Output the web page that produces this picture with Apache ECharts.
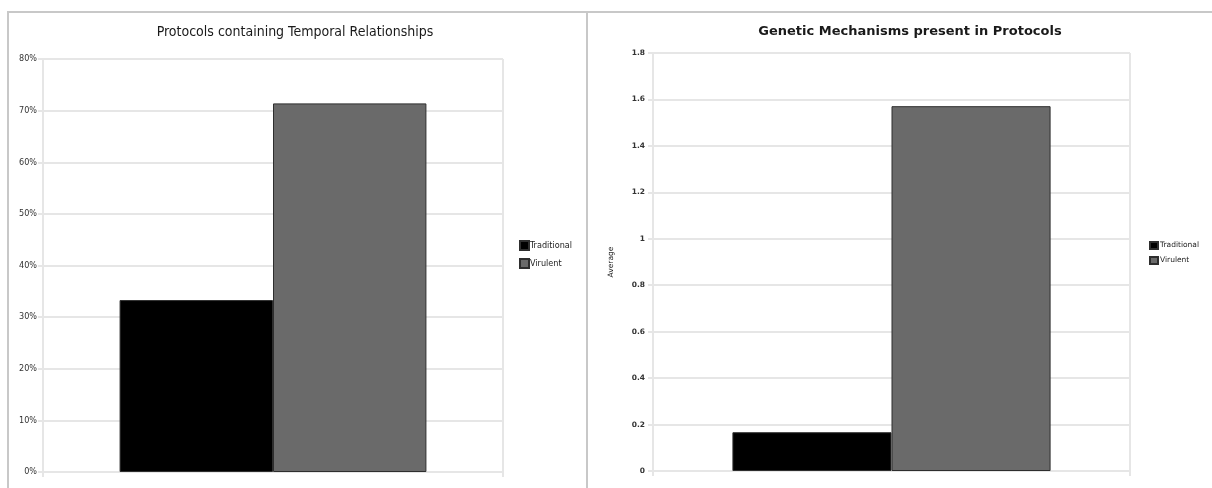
<!DOCTYPE html>
<html>
<head>
<meta charset="utf-8">
<script src="https://cdn.jsdelivr.net/npm/echarts@6/dist/echarts.min.js"></script>
<style>
  html, body { margin: 0; padding: 0; background: #ffffff; }
  #chart { width: 1212px; height: 488px; }
</style>
</head>
<body>
<div id="chart"></div>
<script>
// Share of protocols containing temporal relationships (percent)
const seriesNames = ['Traditional', 'Virulent'];
const temporalTraditional = [33.3];
const temporalVirulent = [71.4];
// Average number of genetic mechanisms present in protocols
const geneticTraditional = [0.167];
const geneticVirulent = [1.571];

const category = [''];
const gridColor = '#e6e6e6';
const narrowFont = '"Liberation Sans Narrow", "DejaVu Sans Condensed", "Liberation Sans", sans-serif';
const wideFont = '"DejaVu Sans", "Liberation Sans", sans-serif';

const chart = echarts.init(document.getElementById('chart'), null, { renderer: 'canvas' });

function catAxis(gridIndex) {
  return {
    type: 'category',
    gridIndex: gridIndex,
    data: category,
    axisLabel: { show: false },
    axisLine: { show: true, lineStyle: { color: gridColor, width: 2 } },
    axisTick: { show: true, length: 5, lineStyle: { color: gridColor, width: 2 } },
    splitLine: { show: true, lineStyle: { color: gridColor, width: 2 } }
  };
}

function barStyle(color) {
  return { color: color, borderColor: '#2e2e2e', borderWidth: 1 };
}

chart.setOption({
  animation: false,
  backgroundColor: '#ffffff',
  graphic: [
    { type: 'rect', shape: { x: 8, y: 12, width: 579, height: 490 },
      style: { fill: 'none', stroke: '#c8c8c8', lineWidth: 2 }, silent: true },
    { type: 'line', shape: { x1: 587, y1: 12, x2: 1212, y2: 12 },
      style: { stroke: '#c8c8c8', lineWidth: 2 }, silent: true }
  ],
  title: [
    { text: 'Protocols containing Temporal Relationships', left: 295, top: 25, textAlign: 'center', padding: 0,
      textStyle: { fontFamily: narrowFont, fontSize: 14, fontWeight: 'normal', color: '#1a1a1a' } },
    { text: 'Genetic Mechanisms present in Protocols', left: 910, top: 25, textAlign: 'center', padding: 0,
      textStyle: { fontFamily: wideFont, fontSize: 13, fontWeight: 'bold', color: '#1a1a1a' } }
  ],
  legend: [
    { data: seriesNames, orient: 'vertical', left: 519, top: 240, padding: 0, itemWidth: 9, itemHeight: 9, itemGap: 7,
      icon: 'rect', textStyle: { fontFamily: narrowFont, fontSize: 9, color: '#222', padding: [0, 0, 0, -4] } },
    { data: seriesNames, orient: 'vertical', left: 1149, top: 241, padding: 0, itemWidth: 8, itemHeight: 7, itemGap: 6,
      icon: 'rect', textStyle: { fontFamily: wideFont, fontSize: 7.5, color: '#222', padding: [0, 0, 0, -3] } }
  ],
  grid: [
    { left: 43, top: 59, width: 460, height: 413 },
    { left: 653, top: 53, width: 477, height: 418 }
  ],
  xAxis: [catAxis(0), catAxis(1)],
  yAxis: [
    { type: 'value', gridIndex: 0, min: 0, max: 80, interval: 10,
      axisLabel: { formatter: '{value}%', fontFamily: narrowFont, fontSize: 9, color: '#333', margin: 6 },
      axisLine: { show: true, lineStyle: { color: gridColor, width: 2 } },
      axisTick: { show: true, length: 5, lineStyle: { color: gridColor, width: 2 } },
      splitLine: { show: true, lineStyle: { color: gridColor, width: 2 } } },
    { type: 'value', gridIndex: 1, min: 0, max: 1.8, interval: 0.2,
      name: 'Average', nameLocation: 'middle', nameGap: 38, nameRotate: 90,
      nameTextStyle: { fontFamily: wideFont, fontSize: 7.5, color: '#222' },
      axisLabel: { fontFamily: wideFont, fontSize: 7.5, fontWeight: 'bold', color: '#333', margin: 8 },
      axisLine: { show: true, lineStyle: { color: gridColor, width: 2 } },
      axisTick: { show: true, length: 5, lineStyle: { color: gridColor, width: 2 } },
      splitLine: { show: true, lineStyle: { color: gridColor, width: 2 } } }
  ],
  series: [
    { name: seriesNames[0], type: 'bar', xAxisIndex: 0, yAxisIndex: 0, data: temporalTraditional,
      barGap: '0%', barCategoryGap: '33.3%', itemStyle: barStyle('#000000') },
    { name: seriesNames[1], type: 'bar', xAxisIndex: 0, yAxisIndex: 0, data: temporalVirulent,
      barGap: '0%', barCategoryGap: '33.3%', itemStyle: barStyle('#6a6a6a') },
    { name: seriesNames[0], type: 'bar', xAxisIndex: 1, yAxisIndex: 1, data: geneticTraditional,
      barGap: '0%', barCategoryGap: '33.3%', itemStyle: barStyle('#000000') },
    { name: seriesNames[1], type: 'bar', xAxisIndex: 1, yAxisIndex: 1, data: geneticVirulent,
      barGap: '0%', barCategoryGap: '33.3%', itemStyle: barStyle('#6a6a6a') }
  ]
});
</script>
</body>
</html>
